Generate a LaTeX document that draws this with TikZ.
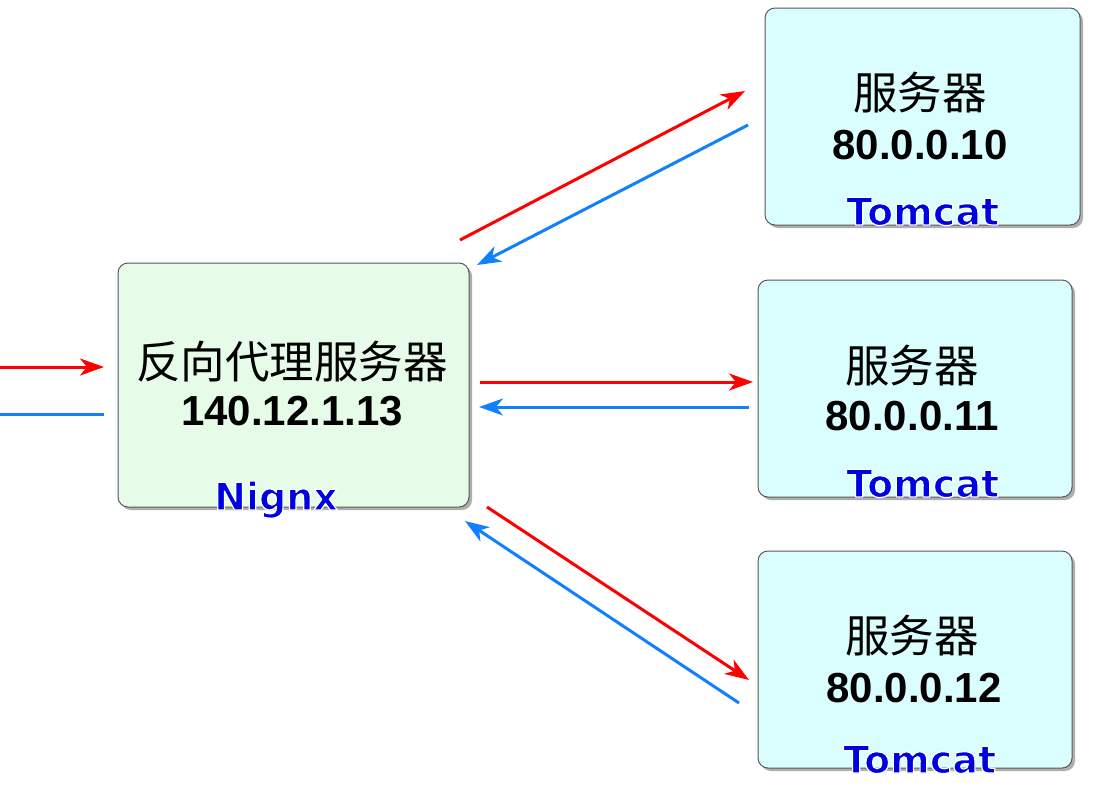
\documentclass[tikz,border=0pt]{standalone}
\usepackage{fontspec}
\setmainfont{Liberation Sans}
\newfontfamily\cjkfont{Noto Sans CJK SC}
\newfontfamily\tagfont{DejaVu Sans}
\usetikzlibrary{arrows.meta,shadows}
\definecolor{reqred}{RGB}{255,0,0}
\definecolor{respblue}{RGB}{16,128,255}
\definecolor{ngfill}{RGB}{230,252,232}
\definecolor{tcfill}{RGB}{218,254,254}
\definecolor{tagblue}{RGB}{0,0,225}
\tikzset{
  box/.style={draw=black!65, line width=1pt, rounded corners=10pt, inner sep=0pt,
    drop shadow={shadow xshift=3pt, shadow yshift=-3pt, opacity=0.45, fill=black!70}},
  cjk/.style={font=\cjkfont\fontsize{44.5}{44.5}\selectfont},
  ip/.style={font=\bfseries\fontsize{42}{42}\selectfont},
  tag/.style={font=\tagfont\bfseries\fontsize{38}{38}\selectfont, text=tagblue, anchor=base west, inner sep=0pt},
  req/.style={-{Stealth[length=24pt,width=17pt,inset=7pt]}, reqred, line width=3pt},
  resp/.style={-{Stealth[length=24pt,width=17pt,inset=7pt]}, respblue, line width=3pt},
}
% white rim round the blue tag text
\newcommand{\tomtag}[1]{\special{pdf:literal direct 1 1 1 RG 1.2 w 1 j 2 Tr}#1\special{pdf:literal direct 0 Tr}}
\begin{document}
\begin{tikzpicture}[x=1pt,y=-1pt]
\useasboundingbox (0,0) rectangle (1094,801);
% boxes
\node[box, fill=ngfill, minimum width=351pt, minimum height=244pt] (ng) at (293.5,385) {};
\node[box, fill=tcfill, minimum width=315pt, minimum height=217pt] (s1) at (922.5,116.5) {};
\node[box, fill=tcfill, minimum width=314pt, minimum height=217pt] (s2) at (915,388.5) {};
\node[box, fill=tcfill, minimum width=314pt, minimum height=217pt] (s3) at (915,659.5) {};
% texts
\node[cjk] (ng-name) at (292,362) {反向代理服务器};
\node[ip] (ng-ip) at (292,411) {140.12.1.13};
\node[tag] (ng-tag) at (214,510) {\tomtag{Nignx}};
\node[cjk] (s1-name) at (920,93) {服务器};
\node[ip] (s1-ip) at (920,145) {80.0.0.10};
\node[tag] (s1-tag) at (846,225) {\tomtag{Tomcat}};
\node[cjk] (s2-name) at (912,366) {服务器};
\node[ip] (s2-ip) at (912,416) {80.0.0.11};
\node[tag] (s2-tag) at (846,497) {\tomtag{Tomcat}};
\node[cjk] (s3-name) at (912,636) {服务器};
\node[ip] (s3-ip) at (914,688) {80.0.0.12};
\node[tag] (s3-tag) at (843,773) {\tomtag{Tomcat}};
% arrow ends
\coordinate (in-a) at (0,367);   \coordinate (in-b) at (104,367);
\coordinate (out-a) at (104,414); \coordinate (out-b) at (0,414);
\coordinate (t-a) at (460,240);  \coordinate (t-b) at (745,91);
\coordinate (t-c) at (748,125);  \coordinate (t-d) at (477,265);
\coordinate (m-a) at (480,382);  \coordinate (m-b) at (753,382);
\coordinate (m-c) at (749,407);  \coordinate (m-d) at (479,407);
\coordinate (b-a) at (487,507);  \coordinate (b-b) at (749,680);
\coordinate (b-c) at (739,703);  \coordinate (b-d) at (465,521);
% arrows
\draw[req] (in-a) -- (in-b);
\draw[respblue, line width=3pt] (out-a) -- (out-b);
\draw[req] (t-a) -- (t-b);
\draw[resp] (t-c) -- (t-d);
\draw[req] (m-a) -- (m-b);
\draw[resp] (m-c) -- (m-d);
\draw[req] (b-a) -- (b-b);
\draw[resp] (b-c) -- (b-d);
\end{tikzpicture}
\end{document}
